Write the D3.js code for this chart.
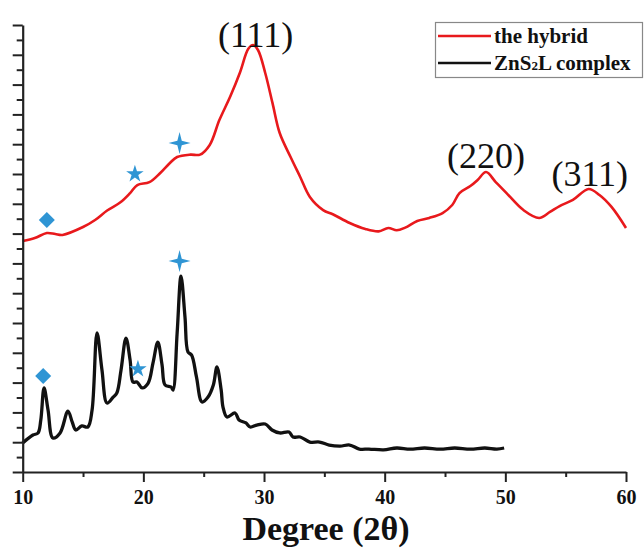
<!DOCTYPE html>
<html><head><meta charset="utf-8">
<script src="https://cdn.jsdelivr.net/npm/d3@7/dist/d3.min.js"></script>
<style>body{margin:0;background:#fff}svg{display:block}</style>
</head><body>
<script>
// ---- data ----
const hybridX = [10.0,11.0,12.0,12.7,13.3,15.0,16.0,17.0,18.1,18.9,19.5,20.5,21.4,22.2,22.8,23.9,24.7,25.5,26.3,27.2,28.0,28.7,29.1,29.5,30.1,30.7,31.3,32.2,33.0,33.8,34.9,35.7,37.1,38.4,39.5,40.3,41.0,41.7,42.7,43.7,44.8,45.6,46.2,47.1,47.7,48.4,49.2,50.1,51.5,52.8,53.7,54.5,55.6,56.9,57.8,58.8,60.0];
const hybridY = [15.50,15.70,16.04,15.97,15.91,16.44,16.91,17.55,18.10,18.72,19.26,19.45,20.07,20.74,21.14,21.30,21.30,21.95,23.62,25.20,26.80,28.40,28.66,28.32,26.78,24.77,22.75,21.14,19.80,18.46,17.58,17.30,16.71,16.31,16.15,16.38,16.22,16.40,16.85,17.05,17.38,17.92,18.72,19.19,19.60,20.13,19.46,18.72,17.58,17.05,17.45,17.85,18.26,18.99,18.59,17.79,16.38];
const complexX = [10.0,10.85,11.27,11.5,11.77,12.1,12.5,13.1,13.75,14.1,14.4,14.9,15.4,15.75,16.16,16.57,16.99,17.5,17.8,18.15,18.56,18.9,19.14,19.47,19.9,20.4,20.8,21.2,21.55,21.8,22.3,22.46,22.8,23.12,23.45,23.7,24.0,24.4,24.86,25.36,25.8,26.1,26.45,26.6,26.93,27.6,27.93,28.5,28.85,29.4,30.1,30.66,31.3,32.07,32.4,33.0,33.8,34.6,35.4,36.3,37.1,37.9,38.7,39.9,41.0,42.1,43.3,44.6,45.8,47.1,48.3,49.3,49.9];
const complexY = [1.95,2.48,2.62,3.49,5.64,4.16,2.28,2.62,4.09,3.36,2.82,3.09,3.02,4.16,9.33,6.85,4.63,5.03,5.30,6.85,8.99,7.52,6.04,6.04,5.64,5.97,7.32,8.72,7.18,5.84,5.70,5.50,9.33,13.15,10.40,8.05,7.85,6.38,4.70,5.03,5.84,7.05,5.50,4.36,3.69,3.96,3.49,3.29,3.02,3.15,3.22,2.82,2.62,2.68,2.35,2.35,2.01,2.01,1.81,1.74,1.81,1.54,1.54,1.48,1.61,1.54,1.61,1.54,1.61,1.54,1.61,1.54,1.61];
const seriesNames = ["the hybrid", "ZnS2L complex"];
const markerTypes = ["diamond", "star", "cross4"];
const hybridMarkerX = [12.0, 19.3, 23.0];
const hybridMarkerY = [16.91, 20.0, 22.08];
const complexMarkerX = [11.7, 19.55, 23.0];
const complexMarkerY = [6.44, 6.91, 14.16];
const peakLabels = ["(111)", "(220)", "(311)"];
const peakLabelX = [29.3, 48.4, 57.0];
const peakLabelY = [28.5, 20.4, 19.2];
const xTicks = [10, 20, 30, 40, 50, 60];
const xTitle = "Degree (2θ)";

// ---- layout ----
const W = 644, H = 548;
const m = {left: 22.7, right: 18, top: 25, bottom: 76};
const svg = d3.select("body").append("svg").attr("width", W).attr("height", H);
const x = d3.scaleLinear().domain([10, 60]).range([m.left, W - m.right]);
const y = d3.scaleLinear().domain([0, 30]).range([H - m.bottom, m.top]);

const serif = "'Liberation Serif','Times New Roman',serif";
const blue = "#2f95d4";

// lines
const line = d3.line().x(d => x(d[0])).y(d => y(d[1])).curve(d3.curveCatmullRom.alpha(0.5));
const hyb = hybridX.map((v, i) => [v, hybridY[i]]);
const cpx = complexX.map((v, i) => [v, complexY[i]]);
svg.append("path").datum(cpx).attr("d", line).attr("fill", "none").attr("stroke", "#111").attr("stroke-width", 3.3).attr("stroke-linejoin", "round");
svg.append("path").datum(hyb).attr("d", line).attr("fill", "none").attr("stroke", "#e8191c").attr("stroke-width", 2.6).attr("stroke-linejoin", "round");

// markers
function markerPath(type) {
  if (type === "diamond") return "M0,-8L8,0L0,8L-8,0Z";
  if (type === "star") return d3.symbol(d3.symbolStar, 95)();
  const r = 11, w = 2.2;
  return `M0,${-r}L${w},${-w}L${r},0L${w},${w}L0,${r}L${-w},${w}L${-r},0L${-w},${-w}Z`;
}
[[hybridMarkerX, hybridMarkerY], [complexMarkerX, complexMarkerY]].forEach(([mx, my]) => {
  mx.forEach((v, i) => {
    svg.append("path").attr("d", markerPath(markerTypes[i]))
      .attr("transform", `translate(${x(v)},${y(my[i])})`).attr("fill", blue);
  });
});

// peak labels
peakLabels.forEach((t, i) => {
  svg.append("text").attr("x", x(peakLabelX[i])).attr("y", y(peakLabelY[i]))
    .attr("text-anchor", "middle").attr("font-family", serif).attr("font-size", 36)
    .attr("fill", "#111").text(t);
});

// axes
const axisColor = "#222";
const xAxis = svg.append("g").attr("transform", `translate(0,${y(0)})`)
  .call(d3.axisBottom(x).tickValues(d3.range(10, 61, 5)).tickSize(0).tickFormat(""));
xAxis.select(".domain").attr("stroke", axisColor).attr("stroke-width", 2.2);
xAxis.selectAll(".tick line").attr("stroke", axisColor).attr("stroke-width", 2)
  .attr("y2", d => (d % 10 === 0 ? 10 : 5));
xAxis.selectAll(".tick").filter(d => xTicks.includes(d)).append("text")
  .attr("y", 32).attr("text-anchor", "middle").attr("font-family", serif)
  .attr("font-weight", "bold").attr("font-size", 20).attr("fill", "#111").text(d => d);

const yAxis = svg.append("g").attr("transform", `translate(${x(10)},0)`)
  .call(d3.axisLeft(y).tickValues(d3.range(0, 31, 1)).tickSize(0).tickFormat(""));
yAxis.select(".domain").attr("stroke", axisColor).attr("stroke-width", 2.2);
yAxis.selectAll(".tick line").attr("stroke", axisColor).attr("stroke-width", 2)
  .attr("x2", d => (d % 2 === 0 ? -10 : -6));

svg.append("text").attr("x", 326).attr("y", 540).attr("text-anchor", "middle")
  .attr("font-family", serif).attr("font-weight", "bold").attr("font-size", 34)
  .attr("fill", "#111").text(xTitle);

// legend
const lg = svg.append("g");
lg.append("rect").attr("x", 435.5).attr("y", 22.5).attr("width", 207).attr("height", 55)
  .attr("fill", "#fff").attr("stroke", "#888").attr("stroke-width", 1.2);
const legColors = ["#e8191c", "#111"];
seriesNames.forEach((n, i) => {
  const yy = 36 + i * 27;
  lg.append("line").attr("x1", 438).attr("x2", 491).attr("y1", yy).attr("y2", yy)
    .attr("stroke", legColors[i]).attr("stroke-width", 2.6);
  const t = lg.append("text").attr("x", 494).attr("y", yy + 7).attr("font-family", serif)
    .attr("font-weight", "bold").attr("font-size", 21).attr("fill", "#111");
  if (n.includes("2")) {
    const parts = n.split("2");
    t.append("tspan").text(parts[0]);
    t.append("tspan").attr("font-size", 13).text("2");
    t.append("tspan").text(parts[1]);
  } else t.text(n);
});
</script>
</body></html>
